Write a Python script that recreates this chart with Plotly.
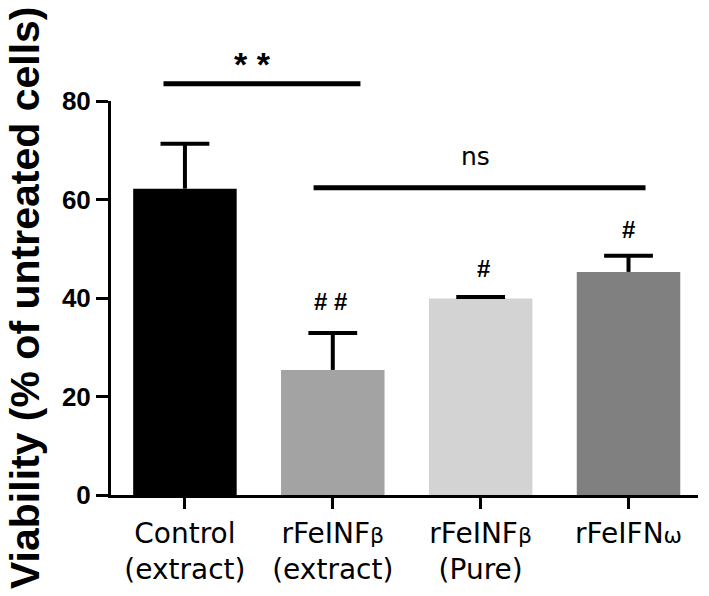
import plotly.graph_objects as go

# ---- data ----
categories = ["Control<br>(extract)", "rFeINFβ<br>(extract)", "rFeINFβ<br>(Pure)", "rFeIFNω"]
values = [62.2, 25.4, 39.9, 45.3]
errors = [9.1, 7.5, 0.3, 3.3]
colors = ["#000000", "#a3a3a3", "#d3d3d3", "#808080"]
y_ticks = [0, 20, 40, 60, 80]

# significance annotations
sig_pairs = [(0, 1, "* *"), (1, 3, "ns")]
hash_labels = ["", "# #", "#", "#"]

x_pos = list(range(len(categories)))

fig = go.Figure()
fig.add_trace(go.Bar(
    x=x_pos, y=values, width=0.70,
    marker=dict(color=colors, line=dict(width=0)),
    showlegend=False, hoverinfo="skip",
))

# upper-only error bars (stem + cap) built from the data
cap_half = 0.165
ex, ey = [], []
for xi, v, e in zip(x_pos, values, errors):
    ex += [xi, xi, None, xi - cap_half, xi + cap_half, None]
    ey += [v, v + e, None, v + e, v + e, None]
fig.add_trace(go.Scatter(
    x=ex, y=ey, mode="lines", line=dict(color="black", width=4),
    showlegend=False, hoverinfo="skip", cliponaxis=False,
))

W = 709
H = 596
ml, mr, mt, mb = 111, 11, 101, 101

fig.update_layout(
    width=W, height=H,
    margin=dict(l=ml, r=mr, t=mt, b=mb),
    plot_bgcolor="white", paper_bgcolor="white",
    xaxis=dict(
        range=[-0.5, 3.47], tickmode="array", tickvals=x_pos,
        ticktext=[c.replace("β", "<span style='font-size:22px'>β</span>")
                   .replace("ω", "<span style='font-size:22px'>ω</span>") for c in categories],
        showline=True, linecolor="black", linewidth=3,
        ticks="outside", ticklen=11, tickwidth=3, tickcolor="black",
        tickfont=dict(family="DejaVu Sans", size=28, color="black"),
        showgrid=False, zeroline=False,
    ),
    yaxis=dict(
        range=[0, 80], tickmode="array", tickvals=y_ticks,
        showline=True, linecolor="black", linewidth=3,
        ticks="outside", ticklen=12, tickwidth=3, tickcolor="black",
        tickfont=dict(family="Arial", size=26, color="black", weight="bold"),
        showgrid=False, zeroline=False,
    ),
)

# y axis title as rotated annotation
fig.add_annotation(
    text="Viability (% of untreated cells)", textangle=-90,
    xref="paper", yref="paper", x=0, y=0.5, xanchor="center", yanchor="middle",
    xshift=-86, showarrow=False,
    font=dict(family="Arial", size=41, color="black", weight="bold"),
)

# ** bracket (above plot area, positioned in paper units = value / 80)
ymax = y_ticks[-1]
fig.add_shape(type="line", xref="x", yref="paper",
              x0=-0.145, x1=1.187, y0=83.5 / ymax, y1=83.5 / ymax,
              line=dict(color="black", width=5))
fig.add_annotation(text=sig_pairs[0][2], xref="x", yref="paper", x=0.457, y=87.6 / ymax,
                   showarrow=False, xanchor="center", yanchor="middle",
                   font=dict(family="Arial", size=34, color="black", weight="bold"))

# ns bracket
fig.add_shape(type="line", xref="x", yref="y",
              x0=0.87, x1=3.115, y0=62.4, y1=62.4,
              line=dict(color="black", width=5))
fig.add_annotation(text=sig_pairs[1][2], xref="x", yref="y", x=1.965, y=68.7,
                   showarrow=False, xanchor="center", yanchor="middle",
                   font=dict(family="DejaVu Sans", size=25, color="black"))

# hash labels
hash_pos = [(0, 0), (0.985, 39.2), (2.02, 45.9), (3.0, 53.9)]
for lab, (hx, hy) in zip(hash_labels, hash_pos):
    if lab:
        fig.add_annotation(text=lab, xref="x", yref="y", x=hx, y=hy,
                           showarrow=False, xanchor="center", yanchor="middle",
                           font=dict(family="Arial", size=24, color="black", weight="bold"))

fig.write_html("out.html", config={"displayModeBar": False},
               post_script="document.body.style.margin='0';")
